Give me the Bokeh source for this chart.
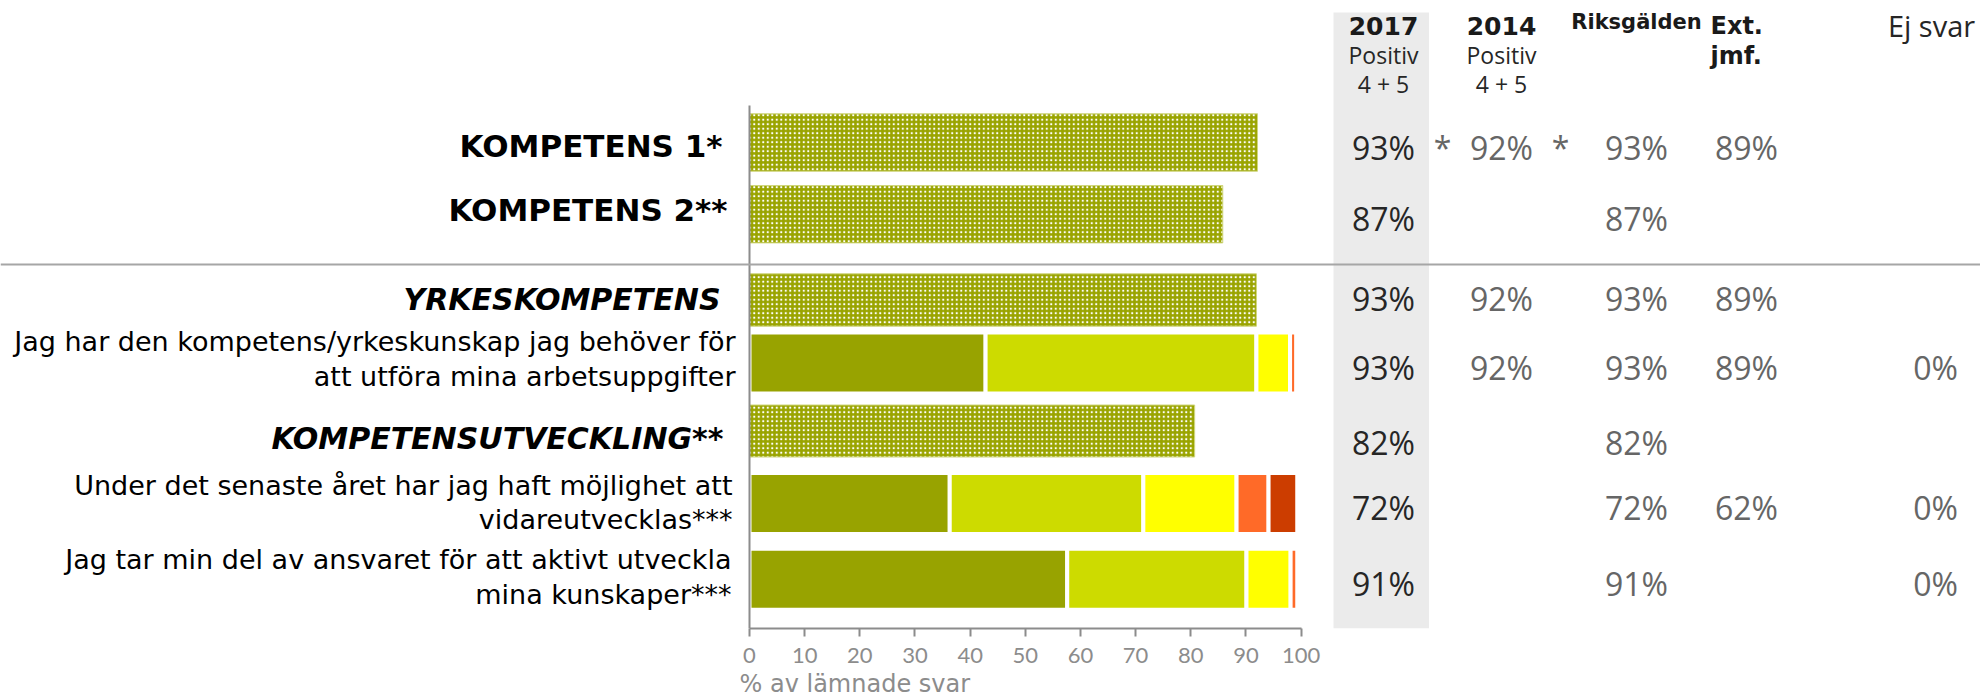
import numpy as np
from bokeh.plotting import figure
from bokeh.models import ColumnDataSource, Range1d, FixedTicker, Span, Title
from bokeh.core.properties import value
from bokeh.embed import file_html
from bokeh.resources import INLINE

# ---------------------------------------------------------------- data
row_labels = [
    "KOMPETENS 1*",
    "KOMPETENS 2**",
    "YRKESKOMPETENS",
    "Jag har den kompetens/yrkeskunskap jag behöver för\natt utföra mina arbetsuppgifter",
    "KOMPETENSUTVECKLING**",
    "Under det senaste året har jag haft möjlighet att\nvidareutvecklas***",
    "Jag tar min del av ansvaret för att aktivt utveckla\nmina kunskaper***",
]
row_style = ["bold", "bold", "bold italic", "normal", "bold italic", "normal", "normal"]

# index / area rows: positive share (4+5) of all answers, drawn as patterned bars
index_rows = [0, 1, 2, 4]
index_values = [92.1, 85.8, 91.9, 80.7]

# question rows: answer distribution in % of all answers (rest = "vet ej")
item_rows = [3, 5, 6]
share_5 = [42.8, 36.3, 57.6]
share_4 = [49.1, 35.1, 32.5]
share_3 = [6.1, 16.9, 8.0]
share_2 = [1.1, 5.8, 1.2]
share_1 = [0.0, 5.2, 0.0]
share_colors = ["#98a300", "#cddb00", "#ffff00", "#ff6a28", "#cc3d00"]

# table columns
pos_2017 = [93, 87, 93, 93, 82, 72, 91]
pos_2014 = [92, None, 92, 92, None, None, None]
sig_2014 = ["*", "", "", "", "", "", ""]
riksgalden = [93, 87, 93, 93, 82, 72, 91]
sig_riks = ["*", "", "", "", "", "", ""]
ext_jmf = [89, None, 89, 89, None, 62, None]
ej_svar = [None, None, None, 0, None, 0, 0]

x_ticks = [0, 10, 20, 30, 40, 50, 60, 70, 80, 90, 100]
x_title = "% av lämnade svar"

# ---------------------------------------------------------------- layout (pixels)
W, H = 1980, 700
FRAME_BOTTOM = 628
PX0, PX_PER = 749.0, 5.516          # x = 0 at 749 px, 5.516 px per percent


def xd(px):
    return (px - PX0) / PX_PER


row_center = [142, 213.7, 299.5, 362.5, 430.5, 503, 578.8]
bar_height = [57.4, 57.4, 52.4, 61.0, 52.0, 61.0, 61.0]
label_y = [145, 209.5, 298.5, 358.5, 438.3, 502, 576.5]
label_right = [722, 727, 720, 735, 723, 732, 731]
value_y = [146.7, 218.3, 298.3, 366.7, 441.7, 507.3, 583.3]

col_2017, col_sig1, col_2014, col_sig2 = 1383, 1442, 1501, 1560
col_riks, col_ext, col_ej = 1636, 1746, 1935

p = figure(
    width=W, height=H,
    x_range=Range1d(xd(0), xd(W)),
    y_range=Range1d(FRAME_BOTTOM, 0),
    output_backend="svg", toolbar_location=None,
    y_axis_location=None,
    min_border=0, min_border_bottom=H - FRAME_BOTTOM,
)
p.outline_line_color = None
p.grid.visible = False
p.background_fill_color = "white"
p.border_fill_color = "white"

# grey band behind the 2017 column
p.quad(left=[xd(1333)], right=[xd(1428.5)], top=[12], bottom=[FRAME_BOTTOM],
       fill_color="#ebebeb", line_color=None)

# separator between overall indices and areas
p.add_layout(Span(location=264, dimension="width", line_color="#a6a6a6", line_width=2))

# patterned index bars
idx_src = ColumnDataSource(dict(
    y=[row_center[i] for i in index_rows],
    h=[bar_height[i] for i in index_rows],
    right=index_values,
))
p.hbar(y="y", height="h", left=0, right="right", source=idx_src,
       fill_color="#9aa400", line_color="#cfd67c", line_width=1,
       hatch_pattern="dot", hatch_color="white", hatch_scale=4.5, hatch_weight=1.7)

# stacked answer distributions
shares = np.array([share_5, share_4, share_3, share_2, share_1])
lefts = np.vstack([np.zeros(len(item_rows)), np.cumsum(shares, axis=0)[:-1]])
rights = np.cumsum(shares, axis=0)
for k, color in enumerate(share_colors):
    keep = shares[k] > 0
    src = ColumnDataSource(dict(
        y=[row_center[i] for i, m in zip(item_rows, keep) if m],
        h=[bar_height[i] for i, m in zip(item_rows, keep) if m],
        left=lefts[k][keep], right=rights[k][keep],
    ))
    p.hbar(y="y", height="h", left="left", right="right", source=src,
           fill_color=color, line_color="white", line_width=4)

# vertical category axis line
p.segment(x0=[0], y0=[105], x1=[0], y1=[FRAME_BOTTOM], line_color="#8c8c8c", line_width=2)

# x axis
ax = p.xaxis[0]
ax.bounds = (0, 100)
ax.ticker = FixedTicker(ticks=x_ticks)
ax.axis_line_color = "#8c8c8c"
ax.axis_line_width = 2
ax.major_tick_line_color = "#8c8c8c"
ax.major_tick_line_width = 2
ax.major_tick_in = 0
ax.major_tick_out = 8
ax.minor_tick_line_color = None
ax.major_label_standoff = 11
ax.major_label_text_font = "Lato"
ax.major_label_text_font_size = "22px"
ax.major_label_text_color = "#8c8c8c"

# axis title, left-aligned under the start of the value axis
p.add_layout(Title(text=x_title, align="left", offset=739, standoff=5,
                   text_font="DejaVu Sans", text_font_size="24px",
                   text_font_style="normal", text_color="#8c8c8c"), "below")

# row labels
for style, size in [("bold", "31px"), ("bold italic", "30px"), ("normal", "27px")]:
    idx = [i for i, s in enumerate(row_style) if s == style]
    src = ColumnDataSource(dict(
        x=[xd(label_right[i]) for i in idx],
        y=[label_y[i] for i in idx],
        t=[row_labels[i] for i in idx],
    ))
    p.text(x="x", y="y", text="t", source=src, text_align="right", text_baseline="middle",
           text_font=value("DejaVu Sans"), text_font_size=size, text_font_style=style,
           text_color="#000000", text_line_height=1.12)


def column_text(px, vals, color, fmt="{}%"):
    keep = [i for i, v in enumerate(vals) if v not in (None, "")]
    src = ColumnDataSource(dict(
        x=[xd(px)] * len(keep),
        y=[value_y[i] for i in keep],
        t=[fmt.format(vals[i]) for i in keep],
    ))
    p.text(x="x", y="y", text="t", source=src, text_align="center", text_baseline="middle",
           text_font=value("Open Sans"), text_font_size="32px", text_color=color)


column_text(col_2017, pos_2017, "#262626")
column_text(col_sig1, sig_2014, "#666666", "{}")
column_text(col_2014, pos_2014, "#666666")
column_text(col_sig2, sig_riks, "#666666", "{}")
column_text(col_riks, riksgalden, "#666666")
column_text(col_ext, ext_jmf, "#666666")
column_text(col_ej, ej_svar, "#666666")

# column headers
head_bold = ColumnDataSource(dict(
    x=[xd(col_2017), xd(col_2014)], y=[25, 25], t=["2017", "2014"]))
p.text(x="x", y="y", text="t", source=head_bold, text_align="center", text_baseline="middle",
       text_font=value("DejaVu Sans"), text_font_size="25px", text_font_style="bold",
       text_color="#1a1a1a")
p.text(x=[xd(1636)], y=[21], text=["Riksgälden"], text_align="center", text_baseline="middle",
       text_font=value("DejaVu Sans"), text_font_size="21px", text_font_style="bold",
       text_color="#1a1a1a")
p.text(x=[xd(1710), xd(1710)], y=[25, 55], text=["Ext.", "jmf."], text_align="left",
       text_baseline="middle", text_font=value("DejaVu Sans"), text_font_size="24px",
       text_font_style="bold", text_color="#1a1a1a")
head_reg = ColumnDataSource(dict(
    x=[xd(col_2017), xd(col_2014)] * 2,
    y=[54, 54, 83, 83],
    t=["Positiv", "Positiv", "4 + 5", "4 + 5"]))
p.text(x="x", y="y", text="t", source=head_reg, text_align="center", text_baseline="middle",
       text_font=value("Open Sans"), text_font_size="23px", text_color="#262626")
p.text(x=[xd(1931)], y=[25], text=["Ej svar"], text_align="center", text_baseline="middle",
       text_font=value("Open Sans"), text_font_size="29px", text_color="#262626")

open("out.html", "w").write(file_html(p, INLINE))
